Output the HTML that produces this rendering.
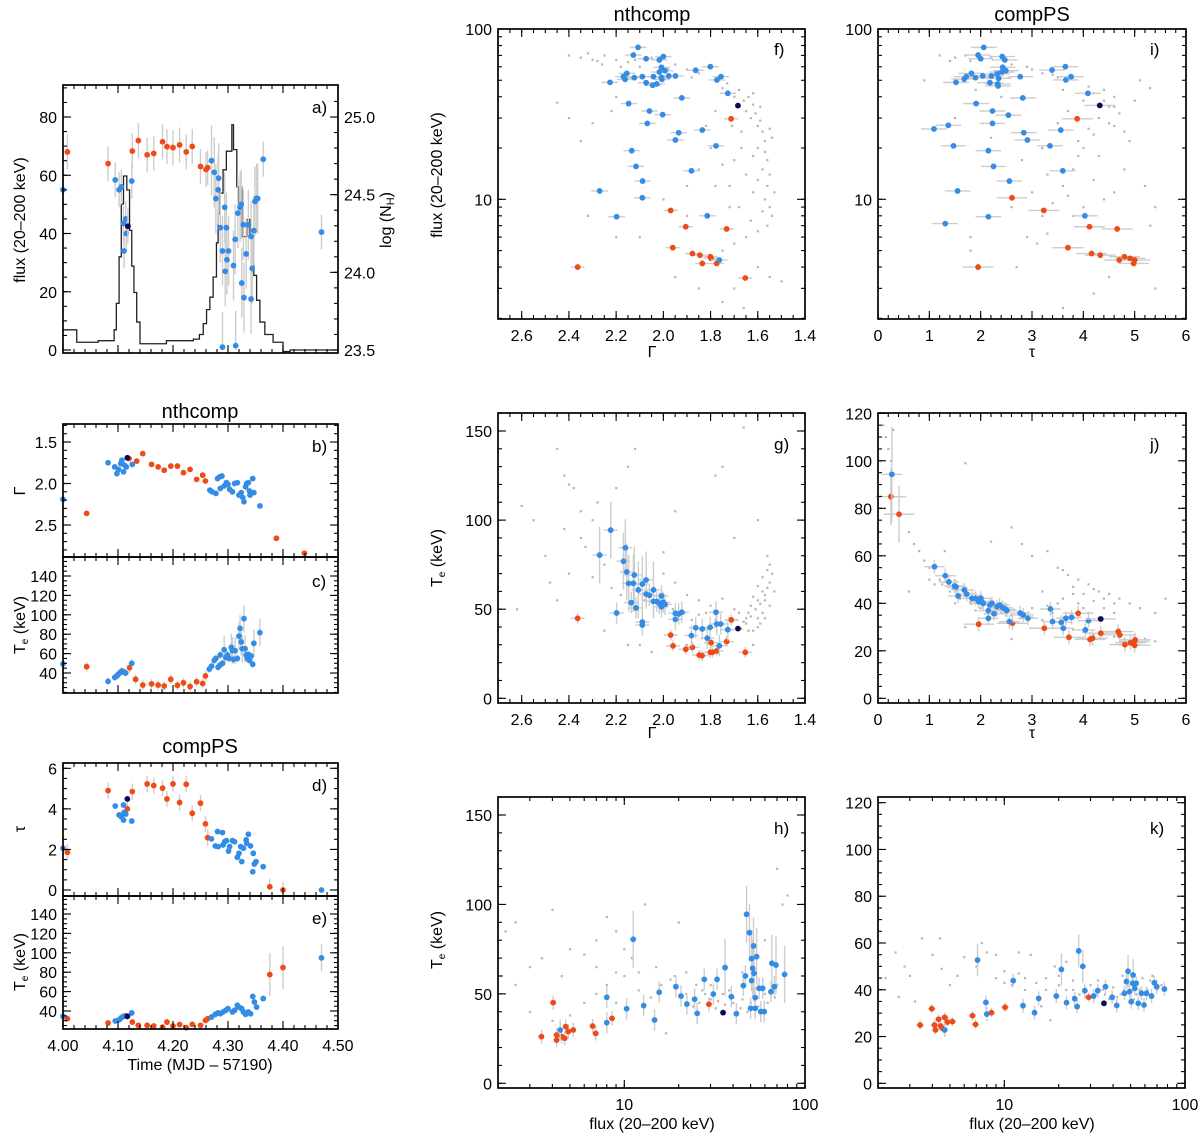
<!DOCTYPE html>
<html><head><meta charset="utf-8"><title>Spectral fit parameters vs time and flux</title>
<style>
html,body{margin:0;padding:0;background:#fff;}
svg{display:block;font-family:"Liberation Sans",Arial,sans-serif;}
</style></head>
<body>
<svg id="fig" width="1200" height="1135" viewBox="0 0 1200 1135" xmlns="http://www.w3.org/2000/svg">
<rect x="0" y="0" width="1200" height="1135" fill="#fff"/>
<g font-size="20" text-anchor="middle" fill="#000">
<text x="200" y="418">nthcomp</text>
<text x="200" y="753">compPS</text>
<text x="652" y="21">nthcomp</text>
<text x="1032" y="21">compPS</text>
</g>
<g font-size="16" text-anchor="middle" fill="#000">
<text transform="translate(25,220) rotate(-90)">flux (20–200 keV)</text>
<text transform="translate(391,220) rotate(-90)">log (N<tspan font-size="11" dy="3">H</tspan><tspan dy="-3">)</tspan></text>
<text transform="translate(25,491) rotate(-90)">Γ</text>
<text transform="translate(25,625) rotate(-90)">T<tspan font-size="10" dy="3">e</tspan><tspan dy="-3"> (keV)</tspan></text>
<text transform="translate(25,829) rotate(-90)">τ</text>
<text transform="translate(25,962) rotate(-90)">T<tspan font-size="10" dy="3">e</tspan><tspan dy="-3"> (keV)</tspan></text>
<text x="200" y="1070">Time (MJD – 57190)</text>
<text transform="translate(442,175) rotate(-90)">flux (20–200 keV)</text>
<text x="652" y="357">Γ</text>
<text x="1032" y="357">τ</text>
<text transform="translate(442,558) rotate(-90)">T<tspan font-size="10" dy="3">e</tspan><tspan dy="-3"> (keV)</tspan></text>
<text x="652" y="738">Γ</text>
<text x="1032" y="738">τ</text>
<text transform="translate(442,940) rotate(-90)">T<tspan font-size="10" dy="3">e</tspan><tspan dy="-3"> (keV)</tspan></text>
<text x="652" y="1129">flux (20–200 keV)</text>
<text x="1032" y="1129">flux (20–200 keV)</text>
</g>
</svg>
<script>
// ---------- DATA ----------
const aOrange=[[4.008,68],[4.082,64],[4.126,68.3],[4.137,71.9],[4.153,67],[4.165,67.5],[4.181,71.5],[4.189,69.8],[4.200,69.5],[4.212,70.4],[4.224,68],[4.235,69.9],[4.250,63],[4.260,62],[4.263,62.6]];
const aBlue=[[4.000,55],[4.095,58.4],[4.102,55],[4.106,56],[4.110,43.5],[4.111,34],[4.114,45],[4.115,40],[4.125,58],[4.270,65],[4.275,61],[4.278,52],[4.283,59],[4.282,55],[4.286,42],[4.290,34],[4.294,49],[4.295,27],[4.297,42],[4.298,31],[4.301,34],[4.290,1],[4.310,29],[4.313,38],[4.314,1.5],[4.318,47],[4.322,49],[4.324,50],[4.325,23],[4.329,18],[4.328,43],[4.333,33],[4.337,43],[4.342,39],[4.342,17.5],[4.344,28],[4.347,41],[4.349,51],[4.352,52],[4.354,52],[4.364,65.5],[4.470,40.5]];
const aDark=[[4.118,42.5]];
const nhEdges=[4.000,4.025,4.064,4.093,4.097,4.102,4.106,4.110,4.116,4.121,4.125,4.129,4.134,4.140,4.188,4.237,4.248,4.255,4.261,4.267,4.273,4.279,4.282,4.285,4.291,4.297,4.307,4.310,4.316,4.319,4.322,4.325,4.334,4.340,4.347,4.352,4.358,4.367,4.382,4.400,4.413,4.500];
const nhLevels=[23.63,23.55,23.56,23.63,23.80,24.10,24.44,24.62,24.53,24.27,24.04,23.87,23.68,23.54,23.56,23.57,23.60,23.67,23.76,23.84,23.97,24.19,24.38,24.51,24.66,24.78,24.95,24.79,24.55,24.42,24.55,24.23,24.34,24.23,23.98,23.82,23.68,23.60,23.55,23.49,23.50];
const bOrange=[[4.043,2.36],[4.120,1.70],[4.134,1.73],[4.145,1.64],[4.161,1.77],[4.173,1.80],[4.184,1.84],[4.196,1.79],[4.208,1.79],[4.219,1.87],[4.231,1.83],[4.243,1.95],[4.254,1.90],[4.259,1.97],[4.388,2.66],[4.439,2.84]];
const bBlue=[[4.000,2.19],[4.082,1.75],[4.094,1.80],[4.098,1.88],[4.101,1.83],[4.105,1.76],[4.107,1.72],[4.110,1.86],[4.112,1.78],[4.115,1.80],[4.126,1.77],[4.267,2.08],[4.271,2.10],[4.278,2.12],[4.281,1.94],[4.285,1.92],[4.289,1.91],[4.286,2.06],[4.293,2.03],[4.297,1.99],[4.300,2.01],[4.303,2.07],[4.308,2.10],[4.312,2.00],[4.317,1.99],[4.320,2.14],[4.324,2.11],[4.327,2.17],[4.329,2.22],[4.332,2.04],[4.334,2.00],[4.337,1.99],[4.339,2.09],[4.340,2.14],[4.345,1.94],[4.347,2.11],[4.358,2.27]];
const bDark=[[4.117,1.69]];
const cOrange=[[4.043,46.5],[4.121,45.5],[4.132,33.5],[4.145,27.6],[4.161,28.7],[4.173,27.6],[4.184,26.6],[4.196,33.5],[4.208,27.3],[4.219,29.9],[4.231,26],[4.243,31],[4.254,29.2],[4.259,37]];
const cBlue=[[4.000,49.3],[4.082,31.4],[4.094,35.5],[4.098,37],[4.101,39],[4.105,41],[4.107,42],[4.111,41],[4.114,40],[4.125,50],[4.266,44],[4.270,47],[4.275,53],[4.278,55],[4.282,46],[4.285,48],[4.286,58.6],[4.290,50],[4.293,64],[4.296,56],[4.299,58.6],[4.302,55],[4.306,66.5],[4.308,63],[4.310,54],[4.313,63],[4.317,55],[4.320,78],[4.322,86],[4.324,72],[4.326,65],[4.329,96],[4.331,65],[4.333,58.6],[4.335,55],[4.337,59],[4.339,53],[4.342,57.5],[4.345,49],[4.347,70.6],[4.358,81.6]];
const dOrange=[[4.008,1.86],[4.082,4.90],[4.117,4.00],[4.126,4.85],[4.153,5.23],[4.165,5.15],[4.181,5.02],[4.189,4.49],[4.200,5.23],[4.212,4.31],[4.224,5.21],[4.235,3.78],[4.250,4.28],[4.259,3.26],[4.263,2.58],[4.376,0.16],[4.400,0.0]];
const dBlue=[[4.000,2.06],[4.095,4.14],[4.102,3.70],[4.106,3.62],[4.110,4.19],[4.111,3.82],[4.110,3.45],[4.114,3.75],[4.125,3.40],[4.270,2.52],[4.277,2.17],[4.281,2.88],[4.282,2.14],[4.290,2.83],[4.291,2.22],[4.294,2.38],[4.297,2.43],[4.301,1.92],[4.303,2.14],[4.308,2.43],[4.312,2.38],[4.317,1.61],[4.320,1.81],[4.323,2.14],[4.325,1.40],[4.328,2.06],[4.333,2.47],[4.334,2.30],[4.337,2.75],[4.341,2.17],[4.345,0.90],[4.346,1.81],[4.348,1.28],[4.351,1.40],[4.364,1.15],[4.470,0.0]];
const dDark=[[4.117,4.49]];
const eOrange=[[4.008,32],[4.082,27.6],[4.117,34.5],[4.126,28.6],[4.137,25.2],[4.153,25.2],[4.165,24.5],[4.181,23.4],[4.189,28.6],[4.200,24.5],[4.212,26],[4.224,22.8],[4.235,26.2],[4.250,25.2],[4.259,30.3],[4.263,32],[4.376,77.6],[4.400,84.8]];
const eBlue=[[4.000,34.5],[4.095,29.7],[4.102,31],[4.106,33],[4.110,34.5],[4.114,35],[4.125,38],[4.270,33.8],[4.277,36.6],[4.282,38],[4.286,37.2],[4.291,39],[4.296,40.7],[4.300,42.4],[4.308,39],[4.312,40.7],[4.317,45.9],[4.320,44],[4.325,42.4],[4.328,39],[4.332,36.6],[4.337,39],[4.341,37.2],[4.345,55],[4.348,49.3],[4.352,44],[4.364,52.8],[4.470,94.8]];
const eDark=[[4.117,34.5]];
const fOrange=[[1.713,29.7],[1.969,8.6],[1.905,6.9],[1.732,6.7],[1.960,5.2],[1.877,4.8],[1.845,4.7],[1.801,4.6],[1.798,4.5],[1.835,4.2],[1.774,4.2],[1.653,3.45],[2.363,4.0]];
const fBlue=[[2.107,78],[2.127,70.3],[2.073,66.9],[2.017,65.8],[2.000,68.9],[2.008,59.6],[1.993,56.9],[2.017,55.9],[1.977,53],[1.863,57.2],[1.801,60.1],[1.756,52.5],[1.773,50.2],[1.727,41.9],[2.226,48.6],[2.155,54.9],[2.169,52.5],[2.162,50.6],[2.123,51.8],[2.089,52.5],[2.073,48.4],[2.042,52.5],[2.045,46.7],[2.028,47.6],[2.008,52],[2.006,50.6],[1.949,53],[1.922,39.4],[2.147,36.5],[2.059,33],[2.003,31.4],[2.068,27.9],[1.935,24.6],[1.835,25.5],[1.949,22.3],[1.777,20.6],[2.134,19.3],[2.116,15.6],[1.881,14.7],[2.088,12.8],[2.270,11.2],[2.089,10.2],[2.198,7.9],[1.814,8.0],[1.763,4.4]];
const fDark=[[1.684,35.5]];
const fGray=[[2.4,70],[2.35,68],[2.32,72],[2.28,65],[2.25,70],[2.2,66],[2.18,60],[2.15,64],[2.1,60],[2.05,68],[1.95,62],[1.9,58],[1.85,55],[2.45,37],[2.4,30],[2.35,22],[2.3,28],[2.22,33],[2.2,40],[1.75,45],[1.72,42],[1.7,40],[1.68,44],[1.66,38],[1.65,33],[1.63,30],[1.62,36],[1.6,27],[1.58,25],[1.57,22],[1.6,20],[1.62,18],[1.58,15],[1.56,12],[1.57,10],[1.55,9],[1.54,8],[1.56,7],[1.6,6.5],[1.65,6],[1.7,5.5],[1.75,5],[1.6,4],[1.55,3.5],[1.5,3.3],[1.7,3],[1.75,2.5],[1.66,2.3],[1.8,20],[1.85,15],[1.9,12],[1.9,8],[2.0,10],[2.1,6],[1.95,3.5],[1.85,3],[1.78,12],[1.7,17],[1.65,14],[1.62,11],[2.32,8],[2.2,6],[1.64,40],[1.61,32],[1.59,29],[1.67,25],[1.69,35],[1.56,17],[1.6,13],[1.72,9],[2.3,66],[2.26,62],[2.12,66],[1.98,58],[1.88,52],[1.73,48],[1.62,42],[1.59,35],[1.55,26],[1.54,23],[1.57,19],[1.55,14],[1.53,11],[1.58,8.5],[1.63,7.5],[1.68,9],[1.72,12],[1.75,16],[1.82,27],[1.78,33],[1.71,27],[1.67,20]];
const iOrange=[[3.88,29.7],[2.61,10.2],[3.23,8.6],[4.12,6.9],[4.66,6.7],[3.70,5.2],[4.16,4.8],[4.33,4.7],[4.80,4.6],[4.91,4.5],[5.00,4.4],[4.70,4.4],[4.98,4.2],[1.95,4.0]];
const iBlue=[[2.06,78],[1.95,70.3],[2.00,66.9],[2.42,68.9],[2.47,65.8],[2.43,59.6],[2.49,56.9],[2.41,55.9],[2.32,54.5],[2.21,53],[2.04,53],[1.82,54.9],[1.72,52.5],[1.68,50.8],[1.52,48.6],[1.90,51.8],[2.35,51.3],[2.18,48.4],[2.33,47.6],[2.34,46.3],[2.77,52.5],[3.39,57.4],[3.65,60.1],[3.66,50.2],[3.76,52.5],[4.09,41.9],[2.82,39.4],[1.91,36.5],[2.23,33],[2.54,31.2],[2.23,27.9],[1.37,27.2],[1.09,25.9],[3.56,25.5],[2.84,24.6],[2.91,22.3],[3.35,20.6],[1.47,20.6],[2.15,19.3],[2.25,15.6],[3.60,14.7],[2.56,12.8],[1.55,11.2],[2.15,7.9],[1.31,7.2],[4.03,8.0]];
const iDark=[[4.32,35.6]];
const iGray=[[1.2,70],[1.5,68],[1.8,65],[2.2,68],[2.6,62],[3.0,58],[3.2,55],[3.4,54],[3.8,52],[4.1,46],[4.4,44],[4.6,40],[4.5,35],[4.7,32],[4.3,30],[4.6,27],[4.8,25],[5.1,50],[5.3,45],[4.0,38],[3.7,33],[3.5,28],[3.9,22],[4.3,18],[4.8,15],[5.2,12],[5.4,9],[5.3,7],[4.6,11],[4.2,13],[3.6,12],[3.3,14],[3.0,11],[2.6,9],[2.9,6],[3.1,5.5],[3.3,6.3],[3.8,8],[4.5,3.5],[4.2,2.8],[3.6,2.3],[5.4,3],[1.8,6],[1.8,5],[2.7,4],[2.8,17],[2.2,23],[1.5,30],[0.9,50],[3.2,20],[4.9,22],[5.0,38],[3.6,44],[4.2,24],[3.9,18],[3.4,9.5],[1.4,65],[1.7,70],[2.5,66],[2.9,60],[3.5,52],[4.2,42],[4.4,38],[4.6,35],[4.5,28],[4.1,26],[4.0,20],[3.8,15],[4.4,10],[4.0,9],[3.7,10.5],[3.2,8],[2.4,40],[1.9,44]];
const gOrange=[[2.363,44.9],[1.969,35.5],[1.959,29.4],[1.905,27.5],[1.877,28.6],[1.848,24.3],[1.836,23.9],[1.801,25.8],[1.792,25.8],[1.798,31.2],[1.774,26.6],[1.732,31.8],[1.712,44.0],[1.653,25.8]];
const gBlue=[[2.270,80.4],[2.223,94.4],[2.161,84.5],[2.169,76.9],[2.155,70.9],[2.147,64.5],[2.127,64.5],[2.123,69.2],[2.106,60.8],[2.089,64.1],[2.073,66.4],[2.073,58.5],[2.059,57.8],[2.042,60.8],[2.042,54.4],[2.028,54.4],[2.017,53.3],[2.008,57.4],[2.008,51.4],[2.000,53.9],[1.993,52.7],[2.136,53.7],[2.116,50.7],[2.198,47.9],[2.089,42.8],[2.089,41.1],[1.949,44.3],[1.949,47.7],[1.935,47.3],[1.922,48.3],[1.863,39.6],[1.835,38.9],[1.802,39.8],[1.777,48.3],[1.774,41.7],[1.757,41.7],[1.727,38.5],[1.881,35.2],[1.814,33.7],[1.763,29.5]];
const gDark=[[1.684,39.1]];
const gGray=[[2.45,140],[2.42,125],[2.4,120],[2.38,118],[2.35,105],[2.42,95],[2.3,100],[2.28,110],[2.5,80],[2.55,100],[2.6,108],[2.48,65],[2.45,55],[2.62,50],[2.3,68],[2.25,75],[2.2,118],[2.15,130],[2.12,140],[2.0,82],[2.0,70],[1.95,105],[1.95,65],[1.9,58],[1.85,55],[1.8,52],[1.75,56],[1.7,50],[1.68,48],[1.65,45],[1.63,52],[1.6,55],[1.58,60],[1.55,65],[1.55,75],[1.56,80],[1.54,70],[1.57,45],[1.6,40],[1.62,38],[1.65,42],[1.58,48],[1.55,52],[1.6,100],[1.75,130],[1.78,125],[1.7,90],[2.1,30],[2.05,26],[2.15,30],[2.25,38],[1.9,30],[1.85,47],[1.78,44],[1.62,30],[1.66,152],[1.6,45],[1.57,55],[1.64,48],[1.59,42],[1.53,60],[2.22,62],[2.18,58],[2.08,55],[1.61,50],[1.59,53],[1.57,58],[1.56,62],[1.63,46],[1.66,43],[1.69,44],[1.72,45],[1.62,57],[1.6,63],[1.58,68],[1.56,72],[1.64,38],[1.67,39],[2.35,90],[2.33,85],[2.4,70],[1.96,50],[1.88,44],[1.82,48]];
const jOrange=[[0.25,84.9],[0.41,77.5],[1.96,31.2],[2.62,31.6],[3.24,29.5],[3.72,25.7],[3.90,35.8],[4.13,24.8],[4.18,25.3],[4.34,27.4],[4.68,28.1],[4.71,26.7],[4.81,22.6],[4.92,23.4],[4.99,23.9],[5.00,22.3],[5.01,24.6]];
const jBlue=[[0.27,94.3],[1.10,55.4],[1.31,51.6],[1.38,49],[1.49,47.3],[1.52,46.9],[1.56,43.1],[1.68,45.6],[1.73,43.9],[1.83,42.1],[1.90,42.1],[1.96,40.7],[2.00,42.1],[2.02,40.8],[2.05,40],[2.15,33.7],[2.15,36.9],[2.18,39.3],[2.22,40],[2.26,35.6],[2.32,38.6],[2.37,39.3],[2.43,38.2],[2.48,37.5],[2.51,36.9],[2.56,32.3],[2.77,35.9],[2.83,35.1],[2.92,33.7],[3.36,37.6],[3.40,32.3],[3.57,32.0],[3.61,29.5],[3.66,33.7],[3.77,34.1],[4.10,32.7],[4.04,28.8]];
const jDark=[[4.34,33.4]];
const jGray=[[0.1,115],[0.15,110],[0.2,105],[0.3,113],[0.25,100],[0.6,70],[0.7,65],[0.8,62],[0.9,58],[1.0,55],[1.2,50],[1.4,45],[1.6,42],[1.8,40],[2.0,38],[2.2,37],[2.4,36],[2.6,35],[2.8,34],[3.0,34],[3.2,33],[3.4,32],[3.6,30],[3.8,29],[4.0,28],[4.2,27],[4.4,27],[4.6,26],[4.8,25],[5.0,25],[5.2,25],[5.4,24],[2.2,66],[2.6,72],[2.8,65],[3.0,60],[3.3,62],[3.5,55],[3.7,52],[3.9,50],[4.1,48],[4.3,45],[4.5,44],[4.7,42],[4.9,40],[5.1,38],[5.4,36],[3.2,45],[3.6,42],[4.0,38],[4.4,38],[3.8,44],[1.7,99],[1.3,62],[0.6,45],[1.7,30],[2.6,25],[5.6,42],[1.1,48],[1.5,40],[3.0,38],[3.4,36],[4.2,41],[4.6,36],[3.6,54],[3.8,47],[4.0,44],[4.2,46],[4.4,42],[4.6,40],[3.9,40],[4.1,36],[4.3,34],[3.5,40],[3.3,39],[1.0,50],[1.25,48],[1.45,46],[1.9,37],[2.3,35]];
const hOrange=[[4.04,45.1],[3.48,26.1],[4.22,27.0],[4.22,24.2],[4.51,26.1],[4.68,25.2],[4.74,31.7],[4.90,28.9],[5.22,29.8],[6.68,32.0],[6.95,27.9],[8.55,36.3],[29.4,44.2]];
const hBlue=[[4.42,29.8],[8.0,48.1],[8.0,33.9],[10.3,41.7],[11.2,80.5],[12.8,43.4],[14.7,35.4],[15.6,50.9],[19.3,54.0],[20.6,48.8],[22.2,44.3],[24.5,47.0],[25.3,39.1],[27.7,58.1],[31.1,49.9],[32.6,58.1],[36.1,64.7],[39.1,48.4],[41.7,38.9],[47.5,94.5],[46.8,60.0],[45.6,54.6],[49.3,84.2],[50.6,69.7],[51.9,76.8],[51.3,64.3],[50.6,57.4],[52.2,61.5],[54.0,70.8],[53.0,47.9],[50.0,41.9],[53.0,41.9],[55.7,53.1],[58.3,53.1],[56.9,40.1],[59.5,40.1],[64.8,51.2],[65.6,67.1],[69.1,66.1],[67.7,54.0],[77.1,60.9]];
const hDark=[[35.2,39.5]];
const hGray=[[2.1,60],[2.2,85],[2.5,90],[2.5,55],[3,65],[3.5,70],[4,97],[4.5,60],[5,75],[6,72],[7,80],[8,93],[9,85],[10,75],[11,70],[12,62],[13,100],[15,65],[18,58],[20,90],[22,62],[25,55],[28,50],[30,55],[35,50],[40,45],[45,47],[50,45],[55,48],[60,50],[65,52],[70,55],[75,100],[80,105],[70,120],[3,40],[4,35],[5,38],[6,45],[7,50],[8,55],[9,45],[10,60],[14,48],[17,28],[24,43],[32,42],[38,52],[42,40],[55,43],[62,45],[68,48],[45,62],[60,80],[33,46],[27,52],[19,60],[48,40],[36,44],[40,48],[44,42],[30,47],[26,45],[22,50],[16,55],[12,52],[9,62],[7,65]];
const kOrange=[[3.42,24.9],[3.97,31.9],[4.11,24.9],[4.33,27.4],[4.44,24.5],[4.56,23.5],[4.68,28.2],[4.84,26.2],[5.16,26.4],[4.16,22.8],[6.67,28.9],[6.93,25.2],[8.49,30.2],[10.1,32.5],[29.3,36.8]];
const kBlue=[[4.68,22.8],[7.11,52.7],[7.91,34.6],[8.0,29.6],[11.2,43.9],[12.7,33.2],[14.7,30.2],[15.5,36.3],[19.4,37.3],[20.7,48.7],[22.1,34.5],[24.5,36.2],[25.3,32.8],[25.8,56.6],[27.2,50.0],[27.9,39.6],[31.2,37.3],[32.9,39.6],[36.3,41.3],[39.5,36.8],[41.9,33.3],[46.2,38.5],[48.4,47.9],[49.3,39.2],[50.4,34.9],[51.6,46.3],[52.7,40.6],[53.7,42.8],[55.1,34.2],[57.4,38.5],[59.3,33.5],[61.2,38.5],[65.3,37.3],[67.6,43.0],[69.8,41.3],[76.9,40.3],[47.4,43.5],[51.3,42.8]];
const kDark=[[35.6,34.2]];
const kGray=[[2.2,45],[2.5,56],[2.8,50],[3,46],[3.5,62],[4,55],[4.5,49],[5,42],[5.5,46],[6,54],[7,50],[7.5,60],[8,56],[9,45],[10,48],[11,42],[12,47],[13,40],[15,43],[17,45],[19,50],[20,42],[22,40],[24,44],[26,38],[28,40],[30,42],[32,38],[35,40],[38,36],[40,41],[44,38],[48,42],[52,36],[56,40],[60,38],[64,44],[70,40],[74,42],[18,27],[3.2,35],[2.6,37],[4.4,62],[12,56],[14,55],[16,33],[22,52],[45,46],[66,46],[9,55],[33,44],[42,37],[58,45],[28,37],[36,38],[40,36],[46,40],[54,38],[62,40],[24,40],[20,46],[17,40],[13,45],[10,43]];

// ---------- RENDERING ----------
const NS='http://www.w3.org/2000/svg';
const svg=document.getElementById('fig');
const ORANGE='#ef4b17', BLUE='#338ce6', DARK='#0a0a55', GRAY='#b5b5b5', ERR='#cdcdcd';
const TFS='16';
function E(tag,parent){const e=document.createElementNS(NS,tag);parent.appendChild(e);return e;}
function linS(d0,d1,r0,r1){return v=>r0+(v-d0)/(d1-d0)*(r1-r0);}
function logS(d0,d1,r0,r1){const a=Math.log10(d0),b=Math.log10(d1);return v=>r0+(Math.log10(v)-a)/(b-a)*(r1-r0);}
function range(a,b,s){const r=[];for(let v=a;v<=b+s*1e-6;v+=s)r.push(Math.round(v*1e6)/1e6);return r;}
function logMinor(a,b){const r=[];for(let d=a;d<b;d*=10)for(let m=1;m<10;m++)r.push(d*m);r.push(b);return r;}

function makePanel(name,x0,x1,y0,y1,sx,sy){
  const g=E('g',svg);
  
  
  return {name,x0,x1,y0,y1,sx,sy,g};
}
function frame(P){
  const r=E('rect',P.g);
  
  
  r.setAttribute('x',P.x0);r.setAttribute('y',P.y0);r.setAttribute('width',P.x1-P.x0);r.setAttribute('height',P.y1-P.y0);
  r.setAttribute('fill','none');r.setAttribute('stroke','#000');r.setAttribute('stroke-width','1.7');
}
function line(parent,x1,y1,x2,y2,col,w){
  const l=E('line',parent);
  l.setAttribute('x1',x1);l.setAttribute('y1',y1);l.setAttribute('x2',x2);l.setAttribute('y2',y2);
  l.setAttribute('stroke',col);l.setAttribute('stroke-width',w);
  return l;
}
function xTicks(P,vals,len,labels,fmt,scale){
  const s=scale||P.sx;
  const g=E('g',P.g);
  
  
  vals.forEach(v=>{const px=s(v);if(px<P.x0-0.5||px>P.x1+0.5)return;
    line(g,px,P.y1,px,P.y1-len,'#000',1.1);line(g,px,P.y0,px,P.y0+len,'#000',1.1);
    if(labels){const t=E('text',g);
      
      
      t.setAttribute('x',px);t.setAttribute('y',P.y1+22);t.setAttribute('font-size',TFS);t.setAttribute('text-anchor','middle');t.textContent=fmt(v);}
  });
}
function yTicks(P,vals,len,labels,fmt,sides,scale,labelSide){
  const s=scale||P.sy;
  const g=E('g',P.g);
  
  
  vals.forEach(v=>{const py=s(v);if(py<P.y0-0.5||py>P.y1+0.5)return;
    if(sides.indexOf('l')>=0)line(g,P.x0,py,P.x0+len,py,'#000',1.1);
    if(sides.indexOf('r')>=0)line(g,P.x1,py,P.x1-len,py,'#000',1.1);
    if(labels){const t=E('text',g);
      
      
      if(labelSide==='r'){t.setAttribute('x',P.x1+6);t.setAttribute('text-anchor','start');}
      else{t.setAttribute('x',P.x0-6);t.setAttribute('text-anchor','end');}
      t.setAttribute('y',py+6);t.setAttribute('font-size',TFS);t.textContent=fmt(v);}
  });
}
function tag(P,txt,x,y){
  const t=E('text',P.g);
  
  
  t.setAttribute('x',x);t.setAttribute('y',y);t.setAttribute('font-size','17');t.textContent=txt;
}
function grayPts(P,data){
  const g=E('g',P.g);
  
  
  data.forEach(d=>{const r=E('rect',g);
    
    
    r.setAttribute('x',P.sx(d[0])-1);r.setAttribute('y',P.sy(d[1])-1);r.setAttribute('width',2.2);r.setAttribute('height',2.2);r.setAttribute('fill',GRAY);});
}
function pts(P,data,col,series,ex,ey,rad){
  const g=E('g',P.g);
  
  
  data.forEach(d=>{
    const cx=P.sx(d[0]),cy=P.sy(d[1]);
    if(ex){line(g,P.sx(d[0]-ex(d)),cy,P.sx(d[0]+ex(d)),cy,ERR,1.4);}
    if(ey){const y1=Math.max(P.y0,P.sy(d[1]+ey(d))),y2=Math.min(P.y1,P.sy(Math.max(d[1]-ey(d),1e-9)));line(g,cx,y1,cx,y2,ERR,1.4);}
  });
  data.forEach(d=>{
    const c=E('circle',g);
    
    
    c.setAttribute('cx',P.sx(d[0]));c.setAttribute('cy',P.sy(d[1]));c.setAttribute('r',rad||2.9);c.setAttribute('fill',col);});
}
const f0=v=>v.toFixed(0), f1=v=>v.toFixed(1), f2=v=>v.toFixed(2);

const tS=linS(4,4.5,63,338);
// a
const A=makePanel('panel-a',63,338,85,353,tS,linS(0,80,350,117));
const nhS=v=>350-(v-23.5)*155.33;
{
  const g=E('g',A.g);
  
  
  let d='';const n=Math.min(nhLevels.length,nhEdges.length-1);
  for(let i=0;i<n;i++){const x1=tS(nhEdges[i]),x2=tS(nhEdges[i+1]),y=nhS(nhLevels[i]);d+=(i===0?'M':'L')+x1+','+y+'L'+x2+','+y;}
  const p=E('path',g);
  
  
  p.setAttribute('d',d);p.setAttribute('fill','none');p.setAttribute('stroke','#222');p.setAttribute('stroke-width','1.3');
}
pts(A,aOrange,ORANGE,'orange-series',null,()=>6);
pts(A,aBlue,BLUE,'blue-series',null,d=>d[0]>4.26&&d[0]<4.36?12:6);
pts(A,aDark,DARK,'dark-series',null,()=>6);
frame(A);
xTicks(A,range(4,4.5,0.02),4,false);xTicks(A,range(4,4.5,0.1),8,false);
yTicks(A,range(0,90,5),4,false,null,'l');yTicks(A,range(0,80,20),8,true,f0,'l');
yTicks(A,range(23.5,25.1,0.1),4,false,null,'r',nhS);yTicks(A,range(23.5,25.0,0.5),8,true,f1,'r',nhS,'r');
tag(A,'a)',312,113);
// b
const B=makePanel('panel-b',63,338,424,557,tS,linS(1.5,2.5,442,525));
pts(B,bOrange,ORANGE,'orange-series',null,()=>0.03);
pts(B,bBlue,BLUE,'blue-series',null,()=>0.02);
pts(B,bDark,DARK,'dark-series');
frame(B);
xTicks(B,range(4,4.5,0.02),4,false);xTicks(B,range(4,4.5,0.1),8,false);
yTicks(B,range(1.3,2.8,0.1),4,false,null,'lr');yTicks(B,[1.5,2.0,2.5],8,true,f1,'lr');
tag(B,'b)',312,452);
// c
const C=makePanel('panel-c',63,338,557,693,tS,linS(40,140,673,576));
pts(C,cOrange,ORANGE,'orange-series',null,()=>5);
pts(C,cBlue,BLUE,'blue-series',null,d=>d[1]>60?14:4);
frame(C);
xTicks(C,range(4,4.5,0.02),4,false);xTicks(C,range(4,4.5,0.1),8,false);
yTicks(C,range(20,155,5),4,false,null,'lr');yTicks(C,range(40,140,20),8,true,f0,'lr');
tag(C,'c)',312,587);
// d
const D=makePanel('panel-d',63,338,763,896,tS,linS(0,6,890,768.3));
pts(D,dOrange,ORANGE,'orange-series',null,()=>0.4);
pts(D,dBlue,BLUE,'blue-series',null,()=>0.1);
pts(D,dDark,DARK,'dark-series');
frame(D);
xTicks(D,range(4,4.5,0.02),4,false);xTicks(D,range(4,4.5,0.1),8,false);
yTicks(D,range(0,6,0.5),4,false,null,'lr');yTicks(D,range(0,6,2),8,true,f0,'lr');
tag(D,'d)',312,791);
// e
const Ep=makePanel('panel-e',63,338,896,1029,tS,linS(40,140,1011,914));
pts(Ep,eOrange,ORANGE,'orange-series',null,d=>d[1]>60?22:3);
pts(Ep,eBlue,BLUE,'blue-series',null,d=>d[1]>60?14:3);
pts(Ep,eDark,DARK,'dark-series');
frame(Ep);
xTicks(Ep,range(4,4.5,0.02),4,false);xTicks(Ep,range(4,4.5,0.1),8,true,f2);
yTicks(Ep,range(25,155,5),4,false,null,'lr');yTicks(Ep,range(40,140,20),8,true,f0,'lr');
tag(Ep,'e)',312,924);

const gamS=linS(2.6,1.4,521.7,805);
const tauS=linS(0,6,878,1186);
const fluxYS=logS(10,100,199.3,29);
const fluxXS=logS(2,100,498,805);
const fluxXS2=logS(2,100,878,1185);
// f
const F=makePanel('panel-f',498,805,29,319,gamS,fluxYS);
grayPts(F,fGray);
pts(F,fOrange,ORANGE,'orange-series',()=>0.03);
pts(F,fBlue,BLUE,'blue-series',()=>0.035);
pts(F,fDark,DARK,'dark-series');
frame(F);
xTicks(F,range(1.4,2.7,0.05),4,false);xTicks(F,range(1.4,2.6,0.2),8,true,f1);
yTicks(F,logMinor(1,100),4,false,null,'lr');yTicks(F,[10,100],8,true,f0,'lr');
tag(F,'f)',774,55);
// i
const I=makePanel('panel-i',878,1186,29,319,tauS,fluxYS);
grayPts(I,iGray);
pts(I,iOrange,ORANGE,'orange-series',()=>0.3);
pts(I,iBlue,BLUE,'blue-series',()=>0.25);
pts(I,iDark,DARK,'dark-series',()=>0.3);
frame(I);
xTicks(I,range(0,6,0.2),4,false);xTicks(I,range(0,6,1),8,true,f0);
yTicks(I,logMinor(1,100),4,false,null,'lr');yTicks(I,[10,100],8,true,f0,'lr');
tag(I,'i)',1150,55);
// g
const G=makePanel('panel-g',498,805,413,703,gamS,linS(0,150,698.3,431));
grayPts(G,gGray);
pts(G,gOrange,ORANGE,'orange-series',()=>0.03,()=>3);
pts(G,gBlue,BLUE,'blue-series',()=>0.03,d=>d[1]>60?16:6);
pts(G,gDark,DARK,'dark-series');
frame(G);
xTicks(G,range(1.4,2.7,0.05),4,false);xTicks(G,range(1.4,2.6,0.2),8,true,f1);
yTicks(G,range(0,160,10),4,false,null,'lr');yTicks(G,range(0,150,50),8,true,f0,'lr');
tag(G,'g)',774,450);
// j
const J=makePanel('panel-j',878,1186,413,703,tauS,linS(0,120,698.3,413.3));
grayPts(J,jGray);
pts(J,jOrange,ORANGE,'orange-series',()=>0.3,d=>d[1]>60?12:3);
pts(J,jBlue,BLUE,'blue-series',()=>0.2,d=>d[1]>60?20:3);
pts(J,jDark,DARK,'dark-series',()=>0.3);
frame(J);
xTicks(J,range(0,6,0.2),4,false);xTicks(J,range(0,6,1),8,true,f0);
yTicks(J,range(0,120,5),4,false,null,'lr');yTicks(J,range(0,120,20),8,true,f0,'lr');
tag(J,'j)',1150,450);
// h
const H=makePanel('panel-h',498,805,797,1088,fluxXS,linS(0,150,1083.3,815));
grayPts(H,hGray);
pts(H,hOrange,ORANGE,'orange-series',d=>d[0]*0.04,()=>4);
pts(H,hBlue,BLUE,'blue-series',null,d=>d[1]>60?16:6);
pts(H,hDark,DARK,'dark-series');
frame(H);
xTicks(H,logMinor(1,100),4,false);xTicks(H,[10,100],8,true,f0);
yTicks(H,range(0,160,10),4,false,null,'lr');yTicks(H,range(0,150,50),8,true,f0,'lr');
tag(H,'h)',774,834);
// k
const K=makePanel('panel-k',878,1185,797,1088,fluxXS2,linS(0,120,1083.3,802.7));
grayPts(K,kGray);
pts(K,kOrange,ORANGE,'orange-series',d=>d[0]*0.05,()=>2);
pts(K,kBlue,BLUE,'blue-series',null,d=>d[1]>45?7:3);
pts(K,kDark,DARK,'dark-series');
frame(K);
xTicks(K,logMinor(1,100),4,false);xTicks(K,[10,100],8,true,f0);
yTicks(K,range(0,120,5),4,false,null,'lr');yTicks(K,range(0,120,20),8,true,f0,'lr');
tag(K,'k)',1150,834);
</script>
</body></html>
